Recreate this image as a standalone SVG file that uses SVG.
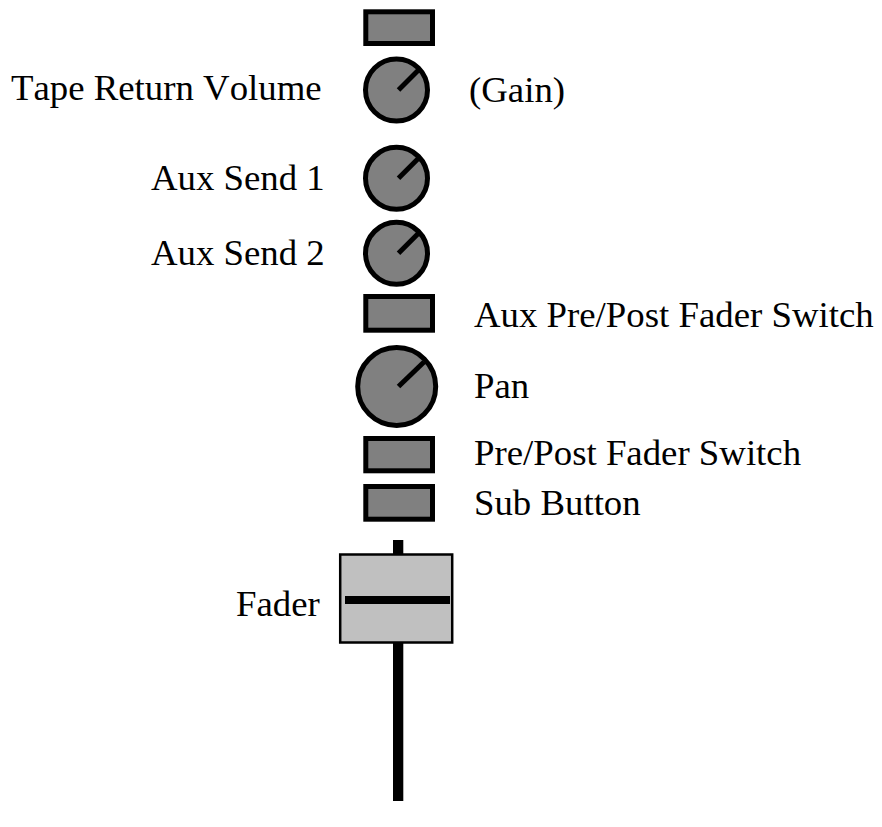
<svg xmlns="http://www.w3.org/2000/svg" width="882" height="827" viewBox="0 0 882 827">
  <style>
    .lbl { font-family: "Liberation Serif", "Times New Roman", serif; font-size: 36.8px; fill: #000; font-kerning: none; }
    .btn { fill: #808080; stroke: #000; stroke-width: 5; }
    .knob { fill: #808080; stroke: #000; stroke-width: 5; }
    .ptr { stroke: #000; stroke-width: 5; stroke-linecap: butt; }
  </style>
  <rect x="0" y="0" width="882" height="827" fill="#fff"/>

  <!-- top switch -->
  <g id="top-switch">
    <rect class="btn" x="365.8" y="11.8" width="66.7" height="31.7"/>
  </g>

  <!-- tape return volume knob -->
  <g id="tape-return-volume">
    <circle class="knob" cx="396.5" cy="90" r="31"/>
    <line class="ptr" x1="398.5" y1="90" x2="418.5" y2="70"/>
    <text class="lbl" x="11" y="100">Tape Return Volume</text>
    <text class="lbl" x="469" y="102">(Gain)</text>
  </g>

  <!-- aux sends -->
  <g id="aux-send-1">
    <circle class="knob" cx="396.5" cy="178.3" r="31"/>
    <line class="ptr" x1="398.5" y1="178.3" x2="418.5" y2="158.3"/>
    <text class="lbl" x="151" y="190">Aux Send 1</text>
  </g>
  <g id="aux-send-2">
    <circle class="knob" cx="396.5" cy="253.3" r="31"/>
    <line class="ptr" x1="398.5" y1="253.3" x2="418.5" y2="233.3"/>
    <text class="lbl" x="151" y="265">Aux Send 2</text>
  </g>

  <!-- aux pre/post switch -->
  <g id="aux-pre-post">
    <rect class="btn" x="365.8" y="296.5" width="66.7" height="33.7"/>
    <text class="lbl" x="474" y="327">Aux Pre/Post Fader Switch</text>
  </g>

  <!-- pan knob -->
  <g id="pan">
    <circle class="knob" cx="396.7" cy="386.5" r="39"/>
    <line class="ptr" x1="398.5" y1="386.5" x2="424" y2="362"/>
    <text class="lbl" x="474" y="398">Pan</text>
  </g>

  <!-- pre/post and sub buttons -->
  <g id="pre-post">
    <rect class="btn" x="365.8" y="438.5" width="66.7" height="32.3"/>
    <text class="lbl" x="474" y="465">Pre/Post Fader Switch</text>
  </g>
  <g id="sub-button">
    <rect class="btn" x="365.8" y="486.5" width="66.7" height="32.7"/>
    <text class="lbl" x="474" y="515">Sub Button</text>
  </g>

  <!-- fader with its track -->
  <g id="fader">
    <rect x="393" y="540" width="10.3" height="261" fill="#000"/>
    <rect x="340.2" y="554.5" width="112" height="88" fill="#c0c0c0" stroke="#000" stroke-width="2.5"/>
    <rect x="345" y="596" width="105" height="8" fill="#000"/>
    <text class="lbl" x="236" y="616">Fader</text>
  </g>
</svg>
